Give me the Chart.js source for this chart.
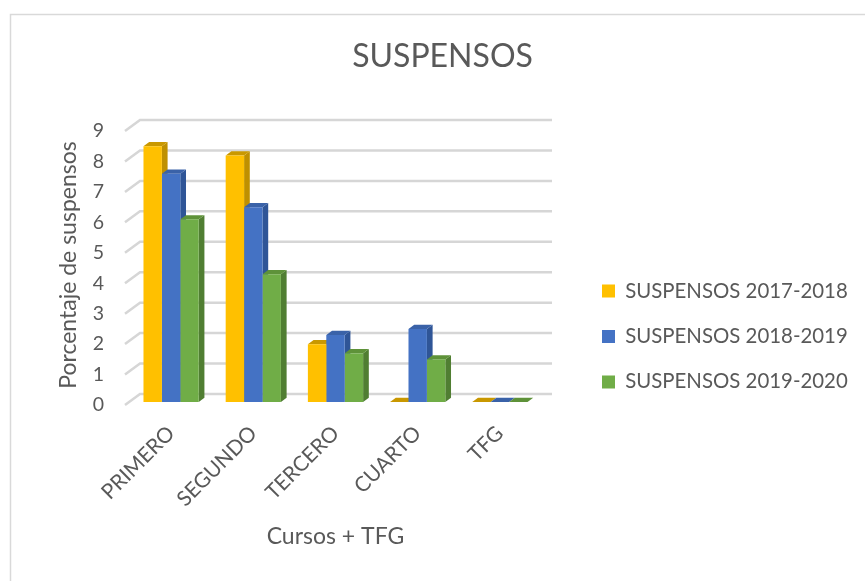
<!DOCTYPE html>
<html lang="es">
<head>
<meta charset="UTF-8">
<title>Suspensos</title>
<script src="https://cdn.jsdelivr.net/npm/chart.js"></script>
<style>
  html, body { margin: 0; padding: 0; background: #fff; }
  canvas { display: block; }
</style>
</head>
<body>
<canvas id="chart" width="865" height="581"></canvas>
<script>
// data
const categories = ['PRIMERO', 'SEGUNDO', 'TERCERO', 'CUARTO', 'TFG'];
const seriesNames = ['SUSPENSOS 2017-2018', 'SUSPENSOS 2018-2019', 'SUSPENSOS 2019-2020'];
const suspensos1718 = [8.4, 8.1, 1.9, 0, 0];
const suspensos1819 = [7.5, 6.4, 2.2, 2.4, 0];
const suspensos1920 = [6.0, 4.2, 1.6, 1.4, 0];
const yTicks = [0, 1, 2, 3, 4, 5, 6, 7, 8, 9];

const FONT = 'Lato';
const TEXT = '#595959';
const LEGEND_SIZE = 20.4;
const fronts = ['#FFC000', '#4472C4', '#70AD47'];
const sides = ['#BF9000', '#2F5597', '#507E32'];
const tops = ['#C99800', '#3A62A8', '#5E9239'];

// fake 3d: offsets of floor front / back wall / bar depth from the bar plane
const FRONT = { dx: -5, dy: 3 };
const BACK = { dx: 10, dy: -8 };
const DEPTH = { dx: 5.7, dy: -4.2 };

// side paddings from the legend text width so the plot lands where it should
const mctx = document.createElement('canvas').getContext('2d');
mctx.font = 'normal ' + LEGEND_SIZE + 'px ' + FONT;
const legendTextW = Math.max(...seriesNames.map(s => mctx.measureText(s).width));
const legendStart = 604;
const legendItemW = 13 + LEGEND_SIZE / 2 + legendTextW;
const padRight = Math.max(0, 865 - (legendStart + legendItemW));
const padLeft = padRight + 20;
const plotLeft = 130, plotRight = 543;

const depth3d = {
  id: 'depth3d',
  beforeDraw(chart) {
    const ctx = chart.ctx;
    ctx.save();
    ctx.fillStyle = '#fff';
    ctx.fillRect(0, 0, chart.width, chart.height);
    ctx.strokeStyle = '#d9d9d9';
    ctx.lineWidth = 1.5;
    ctx.strokeRect(10.5, 14.5, 900, 700);
    ctx.restore();
  },
  beforeDatasetsDraw(chart) {
    const ctx = chart.ctx;
    const xs = chart.scales.x, ys = chart.scales.y;
    ctx.save();
    // back wall gridlines + slanted lines on the side wall
    ctx.strokeStyle = '#d6d6d6';
    ctx.lineWidth = 2.5;
    yTicks.forEach(v => {
      const py = ys.getPixelForValue(v);
      ctx.beginPath();
      ctx.moveTo(xs.left + FRONT.dx, py + FRONT.dy);
      ctx.lineTo(xs.left + BACK.dx, py + BACK.dy);
      ctx.lineTo(xs.right + BACK.dx + 1, py + BACK.dy);
      ctx.stroke();
    });
    // side and top faces, left to right so the next front face covers them
    categories.forEach((c, i) => {
      chart.data.datasets.forEach((ds, d) => {
        const bar = chart.getDatasetMeta(d).data[i];
        const p = bar.getProps(['x', 'y', 'base', 'width'], true);
        const l = p.x - p.width / 2, r = p.x + p.width / 2;
        if (p.base - p.y > 0.5) {
          ctx.fillStyle = sides[d];
          ctx.beginPath();
          ctx.moveTo(r, p.y);
          ctx.lineTo(r + DEPTH.dx, p.y + DEPTH.dy);
          ctx.lineTo(r + DEPTH.dx, p.base + DEPTH.dy);
          ctx.lineTo(r, p.base);
          ctx.closePath();
          ctx.fill();
        }
        ctx.fillStyle = tops[d];
        ctx.beginPath();
        ctx.moveTo(l, p.y);
        ctx.lineTo(r, p.y);
        ctx.lineTo(r + DEPTH.dx, p.y + DEPTH.dy);
        ctx.lineTo(l + DEPTH.dx, p.y + DEPTH.dy);
        ctx.closePath();
        ctx.fill();
      });
    });
    ctx.restore();
  }
};

const seriesValues = [suspensos1718, suspensos1819, suspensos1920];

new Chart(document.getElementById('chart'), {
  type: 'bar',
  data: {
    labels: categories,
    datasets: seriesNames.map((name, d) => ({
      label: name,
      data: seriesValues[d],
      backgroundColor: fronts[d],
      borderWidth: 0,
      categoryPercentage: 0.672,
      barPercentage: 1
    }))
  },
  options: {
    responsive: false,
    animation: false,
    devicePixelRatio: 1,
    layout: { padding: { left: padLeft, right: padRight, top: 0, bottom: 0 } },
    plugins: {
      title: {
        display: true,
        text: 'SUSPENSOS',
        color: TEXT,
        font: { family: FONT, size: 32, weight: 'normal' },
        padding: { top: 37.3, bottom: 52.3 }
      },
      legend: {
        position: 'right',
        maxWidth: legendItemW + 25 + 2,
        title: { display: true, text: '', font: { size: 12 }, padding: { top: 77.6, bottom: 0 } },
        labels: {
          boxWidth: 13,
          boxHeight: 13,
          padding: 25,
          color: TEXT,
          font: { family: FONT, size: LEGEND_SIZE }
        }
      },
      tooltip: { enabled: false }
    },
    scales: {
      x: {
        grid: { display: false },
        border: { display: false },
        ticks: {
          color: TEXT,
          font: { family: FONT, size: 21 },
          minRotation: 45,
          maxRotation: 45,
          autoSkip: false,
          padding: 11
        },
        title: {
          display: true,
          text: 'Cursos + TFG',
          color: TEXT,
          font: { family: FONT, size: 23 },
          padding: { top: 0, bottom: 30.2 }
        },
        afterFit: s => { s.height = 179; }
      },
      y: {
        min: 0,
        max: 9,
        grid: { display: false },
        border: { display: false },
        afterBuildTicks: s => { s.ticks = yTicks.map(v => ({ value: v })); },
        ticks: {
          color: TEXT,
          font: { family: FONT, size: 19.5 },
          padding: 18,
          labelOffset: 3
        },
        title: {
          display: true,
          text: 'Porcentaje de suspensos',
          color: TEXT,
          font: { family: FONT, size: 23 },
          padding: { top: Math.max(0, 69 - padLeft - 13.8), bottom: 0 }
        },
        afterFit: s => { s.width = plotLeft - padLeft; }
      },
      gap: {
        type: 'linear',
        position: 'right',
        display: true,
        grid: { display: false },
        border: { display: false },
        ticks: { display: false },
        afterFit: s => { s.width = legendStart - 25 - plotRight; }
      }
    }
  },
  plugins: [depth3d]
});
</script>
</body>
</html>
